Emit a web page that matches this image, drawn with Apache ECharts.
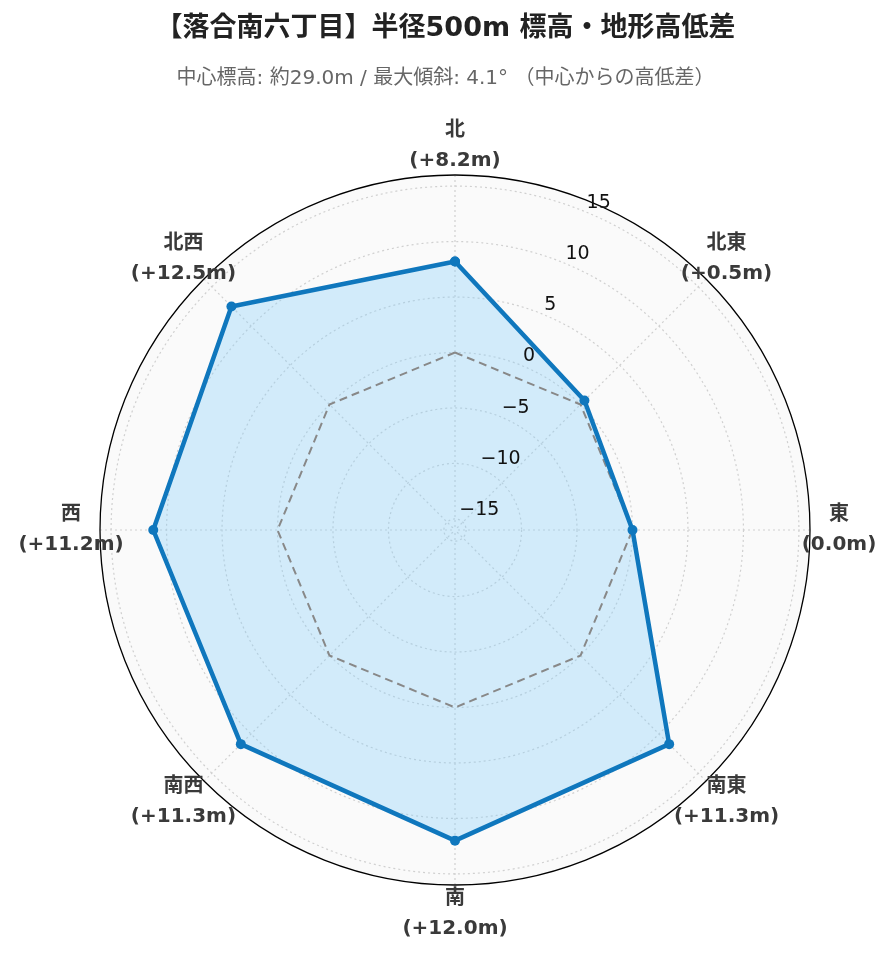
<!DOCTYPE html>
<html>
<head>
<meta charset="utf-8">
<script src="https://cdn.jsdelivr.net/npm/echarts@6/dist/echarts.min.js"></script>
<style>
html,body{margin:0;padding:0;background:#fff;}
#chart{width:891px;height:962px;}
</style>
</head>
<body>
<div id="chart"></div>
<script>
// ---- data ----
const titleText = '【落合南六丁目】半径500m 標高・地形高低差';
const subtitleText = '中心標高: 約29.0m / 最大傾斜: 4.1° （中心からの高低差）';
const directions = ['北', '北東', '東', '南東', '南', '南西', '西', '北西'];
const dirAngles = [0, 45, 90, 135, 180, 225, 270, 315];
const diffs = [8.2, 0.5, 0.0, 11.3, 12.0, 11.3, 11.2, 12.5];
const baseline = [0, 0, 0, 0, 0, 0, 0, 0];
const tickValues = [-15, -10, -5, 0, 5, 10, 15];
const rMin = -16, rMax = 16;

// ---- build ----
function closedPairs(vals) {
  const out = vals.map((v, i) => [v, dirAngles[i]]);
  out.push([vals[0], dirAngles[0] + 360]);
  return out;
}
function dirLabel(i) {
  const v = diffs[i];
  const s = (v > 0 ? '+' : '') + v.toFixed(1) + 'm';
  return directions[i] + '\n(' + s + ')';
}
const FONT = '"DejaVu Sans", "Noto Sans CJK JP", sans-serif';
const clear = 'rgba(0,0,0,0)';
const gridCol = '#d0d0d0';
// colour cycle so only multiples of 5 get a circle (ticks start at -16)
const splitColors = [];
for (let v = rMin; v <= rMax; v++) splitColors.push(tickValues.includes(v) ? gridCol : clear);

const hiddenAngle = (idx, start) => ({
  polarIndex: idx, type: 'value', min: 0, max: 360, interval: 45,
  startAngle: start, clockwise: true,
  axisLine: { show: false }, axisTick: { show: false },
  splitLine: { show: false }, axisLabel: { show: false }
});
const hiddenRadius = (idx, extra) => Object.assign({
  polarIndex: idx, type: 'value', min: rMin, max: rMax,
  axisLine: { show: false }, axisTick: { show: false },
  splitLine: { show: false }, splitArea: { show: false }, axisLabel: { show: false }
}, extra || {});

const chart = echarts.init(document.getElementById('chart'));
chart.setOption({
  backgroundColor: '#ffffff',
  animation: false,
  title: [
    { text: titleText, left: 'center', top: 10,
      textStyle: { fontFamily: FONT, fontSize: 27, fontWeight: 'bold', color: '#222' } },
    { text: subtitleText, left: 'center', top: 64,
      textStyle: { fontFamily: FONT, fontSize: 20, fontWeight: 'normal', color: '#666' } }
  ],
  polar: [
    { center: [455, 530], radius: 355 },
    { center: [455, 530], radius: 355 },
    { center: [455, 530], radius: 384 },
    { center: [455, 530], radius: 355 }
  ],
  angleAxis: [
    {
      polarIndex: 0, type: 'value', min: 0, max: 360, interval: 45,
      startAngle: 90, clockwise: true, z: 1,
      axisLine: { show: true, lineStyle: { color: '#000', width: 1.3 } },
      axisTick: { show: false },
      splitLine: { show: true, lineStyle: { color: gridCol, type: [2, 3], width: 1.2 } },
      axisLabel: { show: false }
    },
    hiddenAngle(1, 67.5),
    hiddenAngle(2, 90),
    hiddenAngle(3, 90)
  ],
  radiusAxis: [
    {
      polarIndex: 0, type: 'value', min: rMin, max: rMax, interval: 1, z: 1,
      axisLine: { show: false }, axisTick: { show: false }, axisLabel: { show: false },
      splitLine: { show: true, lineStyle: { color: splitColors, type: [2, 3], width: 1.2 } },
      splitArea: { show: false }
    },
    {
      polarIndex: 1, type: 'value', min: rMin, max: rMax, interval: 1, z: 10,
      axisLine: { show: false }, axisTick: { show: false },
      splitLine: { show: false }, splitArea: { show: false },
      axisLabel: {
        show: true, margin: 0, rotate: 0, align: 'left', verticalAlign: 'bottom',
        hideOverlap: false, showMinLabel: true, showMaxLabel: true,
        formatter: v => tickValues.includes(v) ? (v < 0 ? '\u2212' + Math.abs(v) : String(v)) : '',
        fontFamily: FONT, fontSize: 19, color: '#111'
      }
    },
    hiddenRadius(2),
    hiddenRadius(3, { z: 0, splitArea: { show: true, areaStyle: { color: ['#fafafa'] } } })
  ],
  series: [
    {
      type: 'line', coordinateSystem: 'polar', polarIndex: 0,
      data: closedPairs(diffs), symbol: 'none', z: 2,
      lineStyle: { width: 0, opacity: 0 },
      areaStyle: { color: 'rgba(135,206,250,0.35)', opacity: 1, origin: 'start' }
    },
    {
      type: 'line', coordinateSystem: 'polar', polarIndex: 0,
      data: closedPairs(baseline), symbol: 'none', z: 3,
      lineStyle: { color: '#888', width: 2, type: [8, 5] }
    },
    {
      type: 'line', coordinateSystem: 'polar', polarIndex: 0,
      data: closedPairs(diffs), symbol: 'circle', symbolSize: 10, z: 4,
      showAllSymbol: true,
      itemStyle: { color: '#0f77bd' },
      lineStyle: { color: '#0f77bd', width: 4.5 }
    },
    {
      type: 'scatter', coordinateSystem: 'polar', polarIndex: 2,
      data: directions.map((d, i) => [rMax, dirAngles[i]]),
      symbolSize: 0, silent: true, z: 5,
      itemStyle: { opacity: 1 },
      label: {
        show: true, position: 'inside', align: 'center', verticalAlign: 'middle',
        formatter: p => dirLabel(p.dataIndex),
        fontFamily: FONT, fontSize: 20, fontWeight: 'bold', color: '#3a3a3a', lineHeight: 30,
        opacity: 1
      }
    }
  ]
});
</script>
</body>
</html>
